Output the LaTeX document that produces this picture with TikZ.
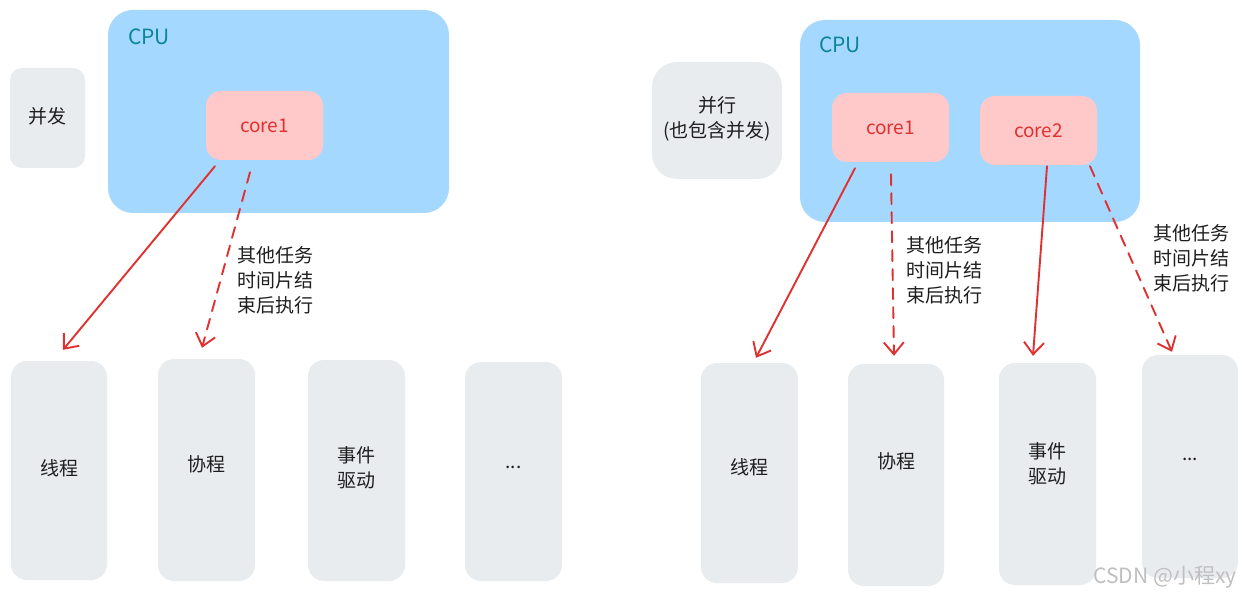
\documentclass[tikz,border=0pt]{standalone}
\usepackage{fontspec}
\setmainfont{Noto Sans CJK SC}
\usetikzlibrary{arrows.meta,calc}
\definecolor{cpublue}{HTML}{A5D8FF}
\definecolor{corepink}{HTML}{FFC9C9}
\definecolor{boxgray}{HTML}{E9ECEF}
\definecolor{arrred}{HTML}{E03131}
\definecolor{cputeal}{HTML}{0C8599}
\definecolor{txtdark}{HTML}{1E1E1E}
\tikzset{
  cpubox/.style={fill=cpublue, rounded corners=25pt, inner sep=0pt},
  corebox/.style={fill=corepink, rounded corners=15pt, inner sep=0pt, text=arrred, font=\fontsize{19}{22}\selectfont},
  graybox/.style={fill=boxgray, rounded corners=16pt, inner sep=0pt},
  boxtext/.style={text=txtdark, align=center, font=\fontsize{19}{25}\selectfont, inner sep=0pt},
  cpulabel/.style={text=cputeal, font=\fontsize{21}{24}\selectfont, inner sep=0pt},
  note/.style={text=txtdark, align=center, font=\fontsize{19}{25}\selectfont, inner sep=0pt},
  solidarr/.style={draw=arrred, line width=1.9pt, line cap=round, -{Straight Barb[length=12pt,width=20pt,line width=1.9pt]}},
  dasharr/.style={solidarr, dash pattern=on 11pt off 8pt},
}
\begin{document}
\begin{tikzpicture}[x=1pt,y=-1pt]
\useasboundingbox (0,0) rectangle (1248,596);
\fill[white] (0,0) rectangle (1248,596);
% ---------- left ----------
\node[cpubox, minimum width=341pt, minimum height=203pt] (cpuL) at (278.5,111.5) {};
\node[cpulabel] (cpuLt) at (149,37) {CPU};
\node[corebox, minimum width=117pt, minimum height=69pt] (coreL) at (264.5,125.5) {core1};
\node[graybox, minimum width=75pt, minimum height=100pt, rounded corners=12pt,
  label={[boxtext, yshift=2pt]center:并发}] (bf) at (47.5,118) {};
\node[graybox, minimum width=96pt, minimum height=219pt,
  label={[boxtext, yshift=2pt]center:线程}] (thL) at (59,470.5) {};
\node[graybox, minimum width=97pt, minimum height=222pt,
  label={[boxtext, yshift=6pt]center:协程}] (xcL) at (206.5,470) {};
\node[graybox, minimum width=97pt, minimum height=221pt,
  label={[boxtext, yshift=3pt]center:事件\\驱动}] (sjL) at (356.5,470.5) {};
\node[graybox, minimum width=97pt, minimum height=219pt,
  label={[boxtext, yshift=4pt]center:...}] (dotL) at (513.5,471.5) {};
\node[note] (noteL) at (275,280) {其他任务\\时间片结\\束后执行};
\draw[solidarr] ($(coreL.south)+(-49.5,6)$) -- ($(thL.north)+(4,-11)$);
\draw[dasharr] ($(coreL.south)+(-14.5,12)$) -- ($(xcL.north)+(-4.5,-11)$);
% ---------- right ----------
\node[graybox, minimum width=130pt, minimum height=117pt, rounded corners=25pt,
  label={[boxtext, yshift=2pt]center:并行\\(也包含并发)}] (bx) at (717,120.5) {};
\node[cpubox, minimum width=340pt, minimum height=202pt] (cpuR) at (970,121) {};
\node[cpulabel] (cpuRt) at (840,45) {CPU};
\node[corebox, minimum width=117pt, minimum height=69pt] (coreR1) at (890.5,127.5) {core1};
\node[corebox, minimum width=117pt, minimum height=69pt] (coreR2) at (1038.5,130.5) {core2};
\node[graybox, minimum width=97pt, minimum height=220pt,
  label={[boxtext, yshift=6pt]center:线程}] (thR) at (749.5,473) {};
\node[graybox, minimum width=96pt, minimum height=222pt,
  label={[boxtext, yshift=14pt]center:协程}] (xcR) at (896,475) {};
\node[graybox, minimum width=97pt, minimum height=222pt,
  label={[boxtext, yshift=10pt]center:事件\\驱动}] (sjR) at (1047.5,474) {};
\node[graybox, minimum width=96pt, minimum height=223pt,
  label={[boxtext, yshift=7pt]center:...}] (dotR) at (1190,466.5) {};
\node[note] (noteR1) at (944,270) {其他任务\\时间片结\\束后执行};
\node[note] (noteR2) at (1191,258) {其他任务\\时间片结\\束后执行};
\draw[solidarr] ($(coreR1.south)+(-35.5,6)$) -- ($(thR.north)+(6.5,-5)$);
\draw[dasharr] ($(coreR1.south)+(0.5,12)$) -- ($(xcR.north)+(-2,-8)$);
\draw[solidarr] ($(coreR2.south)+(8.5,1)$) -- ($(sjR.north)+(-14.5,-7)$);
\draw[dasharr] ($(coreR2.south)+(51.5,1)$) -- ($(dotR.north)+(-18,-3)$);
% watermark
\node[text=black!25, font=\fontsize{21}{24}\selectfont, inner sep=0pt] (wm) at (1165,577) {CSDN @小程xy};
\end{tikzpicture}
\end{document}
